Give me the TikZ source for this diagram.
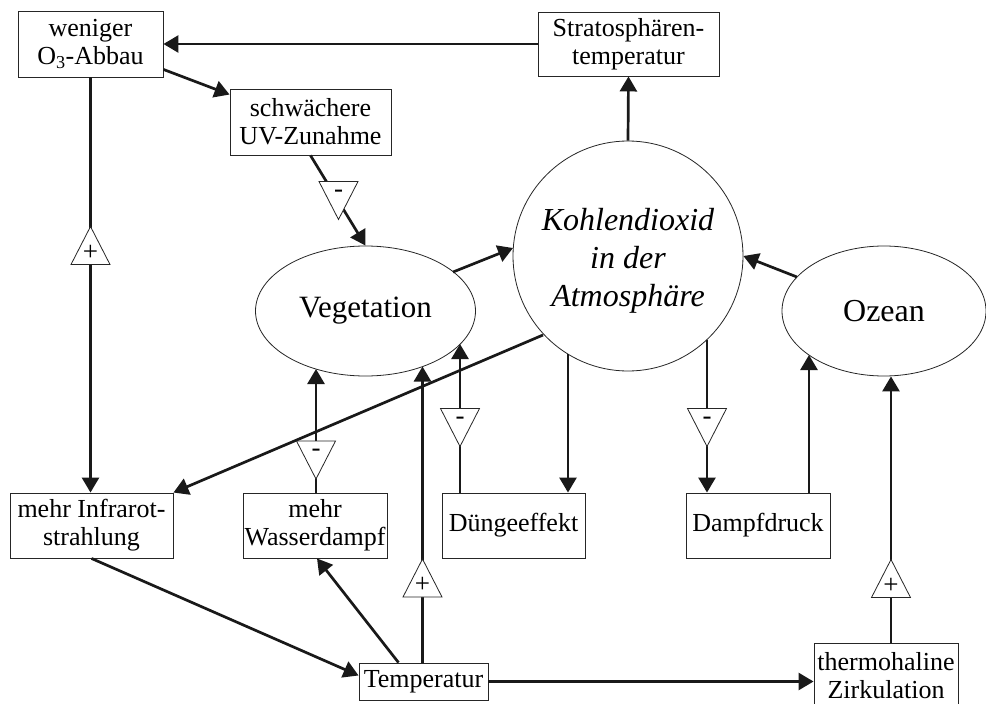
\documentclass[tikz,border=0pt]{standalone}
\usepackage{fontspec}
\setmainfont{Liberation Serif}
\usetikzlibrary{arrows.meta,calc,shapes.geometric}
\tikzset{
 box/.style={draw=black!85, line width=0.9pt, inner sep=0pt, align=center, font=\fontsize{26}{28}\selectfont, fill=white},
 oval/.style={draw=black!85, line width=0.8pt, ellipse, inner sep=0pt, fill=white},
 conn/.style={line width=2.7pt, draw=black!90},
 arr/.style={conn, -{Triangle[length=15pt,width=17pt]}},
 signtri/.style={draw=black!85, fill=white, line width=0.8pt, line join=miter},
 signtxt/.style={font=\fontsize{27}{27}\selectfont, inner sep=0pt},
 pics/upsign/.style={code={\draw[signtri] (0,-19) -- (19.5,19) -- (-19.5,19) -- cycle; \node[signtxt] at (0,7) {#1};}},
 pics/downsign/.style={code={\draw[signtri] (-19.5,-19) -- (19.5,-19) -- (0,19) -- cycle; \node[signtxt] at (0,-7) {#1};}},
}
\begin{document}
\begin{tikzpicture}[x=1pt,y=-1pt]
\useasboundingbox (0,0) rectangle (986,704);
% nodes
\node[box,minimum width=145pt,minimum height=66pt] (weniger) at (90.5,44) {weniger\\O\textsubscript{3}-Abbau};
\node[box,minimum width=181pt,minimum height=64pt] (strato) at (628.5,44) {Stratosphären-\\temperatur};
\node[box,minimum width=161pt,minimum height=66pt] (schw) at (310.5,122) {schwächere\\UV-Zunahme};
\node[oval,minimum width=220pt,minimum height=130pt,font=\fontsize{31}{36}\selectfont] (veg) at (365.5,311) {Vegetation};
\node[oval,circle,minimum size=230pt] (co2) at (628,256) {};
\node[align=center,inner sep=0pt,font=\fontsize{32}{38}\selectfont\itshape] (co2txt) at (628,261) {Kohlendioxid\\in der\\Atmosphäre};
\node[oval,minimum width=204pt,minimum height=130pt,font=\fontsize{32}{36}\selectfont] (ozean) at (884,311) {Ozean};
\node[box,minimum width=163pt,minimum height=65pt] (infra) at (91.5,525.5) {mehr Infrarot-\\strahlung};
\node[box,minimum width=144pt,minimum height=65pt] (wasser) at (315,525.5) {mehr\\Wasserdampf};
\node[box,minimum width=143pt,minimum height=65pt] (duenge) at (513.5,525.5) {Düngeeffekt};
\node[box,minimum width=144pt,minimum height=65pt] (dampf) at (758,525.5) {Dampfdruck};
\node[box,minimum width=129pt,minimum height=37pt] (temp) at (423.5,681.5) {Temperatur};
\node[box,minimum width=144pt,minimum height=66pt] (thermo) at (886,676) {thermohaline\\Zirkulation};
% connectors
\draw[arr] (strato.west) -- (weniger.east);
\draw[arr] ($(weniger.south east)+(0,-8)$) -- ($(schw.north west)+(0,6)$);
\draw[arr] (weniger.south) -- (weniger.south |- infra.north);
\draw[arr] (schw.south) -- (veg.north);
\draw[arr] ($(veg.center)+(87.5,-39)$) -- ($(co2.center)+(-115,-8)$);
\draw[arr] ($(ozean.center)+(-87,-34)$) -- (co2.east);
\draw[arr] (co2.north) -- (strato.south);
\draw[arr] ($(co2.center)+(-85,79)$) -- (infra.north east);
\coordinate (c1) at ($(co2.center)+(-60,98)$);
\draw[arr] (c1) -- (c1 |- duenge.north);
\coordinate (c2) at ($(co2.center)+(79,84)$);
\draw[arr] (c2) -- (c2 |- dampf.north);
\coordinate (o1) at ($(ozean.center)+(-75,44)$);
\draw[arr] (o1 |- dampf.north) -- (o1);
\coordinate (v1) at ($(veg.center)+(94.5,33)$);
\draw[arr] (v1 |- duenge.north) -- (v1);
\coordinate (v2) at ($(veg.center)+(-49.5,58)$);
\draw[arr] (v2 |- wasser.north) -- (v2);
\coordinate (v3) at ($(veg.center)+(57,55.5)$);
\draw[arr] (v3 |- temp.north) -- (v3);
\draw[arr] ($(temp.north)+(-25,0)$) -- ($(wasser.south)+(2,0)$);
\draw[arr] (infra.south) -- ($(temp.west)+(0,-6)$);
\draw[arr] (temp.east) -- (temp.east -| thermo.west);
\coordinate (o2) at ($(ozean.south)+(7,0)$);
\draw[arr] (o2 |- thermo.north) -- (o2);
% sign markers
\pic at (90.5,245.5) {upsign=+};
\pic at (338.5,200.5) {downsign=-};
\pic at (316,460) {downsign=-};
\pic at (460,427.5) {downsign=-};
\pic at (707,427.5) {downsign=-};
\pic at (422.5,578) {upsign=+};
\pic at (891,578.5) {upsign=+};
\end{tikzpicture}
\end{document}
